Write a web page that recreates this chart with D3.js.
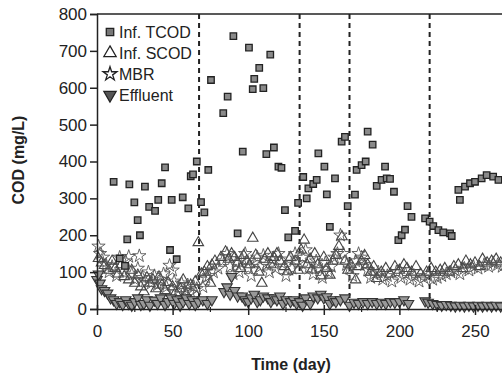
<!DOCTYPE html>
<html>
<head>
	<script src="https://cdn.jsdelivr.net/npm/d3@7"></script>
	<style>
		html, body {
			padding: 0;
			margin: 0;
			background: white;
		}
		svg text {
			font-family: "Liberation Sans", Arial, sans-serif;
			fill: #222;
		}
	</style>
</head>
<body>
	<div id="chart"></div>
	<script>
		// [day, COD]
		var tcod = [[11,345],[15,137],[18.5,117],[20,189],[21.4,338],[24.7,289],[26.9,241],[28.4,200],[31.7,332],[34.5,277],
			[38.4,266],[40.5,296],[42.8,341],[45,384],[48.3,160],[49.4,296],[52.7,135],[56.7,303],[60.4,273],[62,360],
			[63.5,365],[66,400],[68.8,290],[71,262],[73.6,377],[75.4,621],[83.5,531],[86.4,576],[90.2,740],[93,205],
			[96.4,427],[100.5,709],[103,596],[104,624],[107.3,654],[110,599],[112,420],[114.6,690],[117,438],[120,386],
			[122,383],[124.3,268],[126.5,194],[131,212],[133,288],[136.4,358],[138.7,300],[139.8,327],[143,339],[145.3,350],
			[146.4,422],[150.4,386],[152,311],[154,223],[157.4,354],[161.8,454],[164,467],[165.8,279],[170.6,310],[171.7,377],
			[175,390],[177.7,400],[179,481],[182.3,446],[185,334],[188.2,350],[190.5,386],[191.6,354],[193.8,353],[196.4,318],
			[199.3,187],[201.5,200],[203.7,215],[205.4,279],[208,250],[217,246],[220,237],[222.4,225],[225.8,214],[229,208],
			[233.5,205],[234.6,198],[239,323],[240,296],[243.4,332],[246.7,341],[250,345],[254.4,354],[257.7,363],[262,359],[265.5,350]];

		var scod = [[1,137],[3,125],[5,118],[8,105],[10,130],[12,110],[14,95],[16,120],[18,88],[21,79],[23,105],[25,70],
			[27,92],[29,60],[31,47],[33,85],[35,70],[37,79],[39,55],[41,87],[43,65],[45,50],[47,72],[50,60],[52,45],[55,55],
			[57,79],[59,40],[62,65],[65,74],[67,180],[69,95],[71,100],[73,115],[75,70],[76,119],[78,130],[82,140],[85,155],
			[87,135],[89,150],[91,140],[93,125],[95,110],[97,145],[99,130],[101,120],[103,192],[105,146],[107,100],[109,70],
			[111,135],[113,150],[115,120],[117,140],[119,150],[121,130],[124,115],[126,101],[128,140],[131,130],[133,105],
			[135,160],[137,187],[139,120],[141,135],[142,106],[144,150],[146,120],[148,90],[150,140],[152,110],[154,92],
			[156,130],[158,145],[160,170],[162,196],[164,130],[166,105],[168,120],[171,79],[173,115],[175,130],[177,145],
			[179,120],[181,100],[183,115],[185,83],[188,100],[191,110],[194,95],[197,115],[200,105],[203,120],[205,110],
			[208,100],[211,115],[214,95],[218,100],[221,110],[224,100],[227,105],[230,110],[233,100],[236,115],[239,120],
			[242,110],[244,130],[247,120],[250,125],[253,115],[255,135],[258,125],[261,130],[264,135],[267,125]];

		var mbr = [[1,170],[2,150],[4,140],[6,120],[8,100],[10,115],[13,90],[15,140],[17,100],[19,130],[21,142],[23,95],
			[25,80],[27,110],[28,144],[30,85],[32,75],[34,100],[36,70],[38,90],[40,65],[42,80],[44,95],[46,60],[48,118],
			[50,105],[51,75],[54,55],[56,70],[58,50],[60,65],[62,45],[64,60],[66,55],[70,60],[72,85],[74,90],[77,100],
			[80,110],[83,130],[86,150],[88,115],[90,95],[92,125],[94,100],[96,135],[98,150],[100,110],[102,90],[104,125],
			[106,140],[108,115],[110,145],[112,120],[114,100],[116,135],[118,110],[120,150],[122,125],[125,90],[127,135],
			[129,110],[131,150],[133,125],[136,140],[138,160],[140,110],[143,95],[145,130],[147,110],[149,85],[151,125],
			[153,100],[155,115],[157,140],[159,150],[161,200],[163,150],[165,120],[167,110],[169,90],[171,130],[173,150],
			[175,140],[177,120],[179,105],[181,85],[183,95],[186,100],[189,80],[192,90],[195,75],[198,100],[201,85],
			[204,95],[207,80],[210,90],[213,75],[216,85],[219,90],[222,80],[225,85],[228,90],[231,95],[234,100],[237,105],
			[240,95],[243,110],[246,105],[249,115],[252,110],[256,120],[259,115],[262,125],[265,120],[268,115]];

		var effluent = [[0,80],[1,95],[2,70],[3,55],[5,50],[7,43],[9,30],[11,25],[13,15],[15,20],[17,12],[19,25],[21,15],
			[23,10],[25,20],[27,30],[29,12],[31,15],[33,25],[35,10],[38,24],[40,15],[42,30],[45,12],[47,20],[49,30],[51,15],
			[53,25],[55,10],[57,20],[59,30],[61,15],[63,25],[65,12],[67,20],[70,25],[73,15],[76,25],[84,47],[86,60],[88,40],
			[89,88],[91,50],[93,35],[96,35],[98,25],[100,20],[102,30],[104,40],[106,20],[108,25],[110,35],[113,30],[115,20],
			[117,30],[119,25],[121,35],[123,15],[125,25],[128,20],[130,25],[132,15],[134,20],[136,10],[138,30],[141,15],
			[143,35],[146,30],[148,40],[150,30],[152,33],[154,15],[156,25],[158,20],[161,25],[164,30],[167,10],[170,18],
			[173,15],[176,20],[179,15],[182,20],[185,15],[188,18],[191,15],[194,20],[197,18],[200,20],[203,25],[206,15],
			[217,22],[219,18],[222,15],[225,12],[228,10],[231,12],[234,10],[237,8],[240,10],[243,8],[246,10],[249,8],
			[252,10],[255,8],[258,10],[261,8],[264,10],[267,8]];

		var phaseDays = [67.5, 134, 167, 220];
		var xTicks = [0, 50, 100, 150, 200, 250];
		var yTicks = [0, 100, 200, 300, 400, 500, 600, 700, 800];
		var legendNames = ["Inf. TCOD", "Inf. SCOD", "MBR", "Effluent"];

		var width = 502, height = 376;
		var plotLeft = 97, plotTop = 14, plotBottom = 309;

		var svg = d3.select('#chart').append('svg')
			.attr('width', width)
			.attr('height', height);

		// the plot runs past the right edge of the picture
		var x = d3.scaleLinear().domain([0, 300]).range([plotLeft, plotLeft + 300 * 1.512]);
		var y = d3.scaleLinear().domain([0, 800]).range([plotBottom, plotTop]);

		// marker shapes
		var sq = d3.symbol().type(d3.symbolSquare).size(42)();
		var tri = d3.symbol().type(d3.symbolTriangle).size(48)();
		var star = d3.symbol().type(d3.symbolStar).size(55)();

		var styles = [
			{path: sq, fill: "#8a8a8a", stroke: "#222", sw: 1.3, rot: 0},
			{path: tri, fill: "none", stroke: "#444", sw: 1.1, rot: 0},
			{path: star, fill: "none", stroke: "#555", sw: 0.9, rot: 0},
			{path: tri, fill: "#999", stroke: "#333", sw: 1.1, rot: 180}
		];

		// phase dividers
		svg.selectAll("line.phase")
			.data(phaseDays)
			.enter().append("line")
			.attr("class", "phase")
			.attr("x1", function(d) { return x(d); })
			.attr("x2", function(d) { return x(d); })
			.attr("y1", plotTop)
			.attr("y2", plotBottom)
			.attr("stroke", "#222")
			.attr("stroke-width", 2)
			.attr("stroke-dasharray", "5,4");

		// draw series, back to front
		function drawSeries(data, st) {
			svg.append("g").selectAll("path")
				.data(data)
				.enter().append("path")
				.attr("d", st.path)
				.attr("transform", function(d) {
					return "translate(" + x(d[0]) + "," + y(d[1]) + ") rotate(" + st.rot + ")";
				})
				.attr("fill", st.fill)
				.attr("stroke", st.stroke)
				.attr("stroke-width", st.sw);
		}
		drawSeries(scod, styles[1]);
		drawSeries(mbr, styles[2]);
		drawSeries(effluent, styles[3]);
		drawSeries(tcod, styles[0]);

		// frame top
		svg.append("line")
			.attr("x1", plotLeft).attr("x2", width)
			.attr("y1", plotTop).attr("y2", plotTop)
			.attr("stroke", "#222").attr("stroke-width", 1.5);

		// axes
		var yAxis = d3.axisLeft(y).tickValues(yTicks).tickSize(7).tickPadding(3);
		var gy = svg.append("g").attr("transform", "translate(" + plotLeft + ",0)").call(yAxis);
		gy.select(".domain").attr("stroke", "#222").attr("stroke-width", 1.5);
		gy.selectAll(".tick line").attr("stroke", "#222").attr("stroke-width", 1.5);
		gy.selectAll("text").style("font-size", "17px").attr("fill", "#222");

		var xAxis = d3.axisBottom(x).tickValues(xTicks).tickSizeInner(6).tickSizeOuter(0).tickPadding(10);
		var gx = svg.append("g").attr("transform", "translate(0," + plotBottom + ")").call(xAxis);
		gx.select(".domain").attr("stroke", "#222").attr("stroke-width", 1.5);
		gx.selectAll(".tick line").attr("y1", -4).attr("stroke", "#222").attr("stroke-width", 1.5);
		gx.selectAll("text").style("font-size", "17px").attr("fill", "#222");

		// minor x ticks
		svg.append("g").selectAll("line")
			.data(xTicks.map(function(d) { return d + 25; }))
			.enter().append("line")
			.attr("x1", function(d) { return x(d); })
			.attr("x2", function(d) { return x(d); })
			.attr("y1", plotBottom - 2)
			.attr("y2", plotBottom + 3)
			.attr("stroke", "#222")
			.attr("stroke-width", 1.2);

		// axis titles
		svg.append("text")
			.attr("x", 291).attr("y", 370)
			.attr("text-anchor", "middle")
			.style("font-size", "16px").style("font-weight", "bold")
			.text("Time (day)");

		svg.append("text")
			.attr("transform", "translate(24,160) rotate(-90)")
			.attr("text-anchor", "middle")
			.style("font-size", "16px").style("font-weight", "bold")
			.text("COD (mg/L)");

		// legend
		var leg = svg.append("g").selectAll("g")
			.data(legendNames)
			.enter().append("g")
			.attr("transform", function(d, i) { return "translate(110," + (32 + i * 21) + ")"; });
		leg.append("path")
			.attr("d", function(d, i) { return i == 0 ? d3.symbol().type(d3.symbolSquare).size(55)() :
				i == 2 ? d3.symbol().type(d3.symbolStar).size(60)() : d3.symbol().type(d3.symbolTriangle).size(65)(); })
			.attr("transform", function(d, i) { return i == 3 ? "rotate(180)" : ""; })
			.attr("fill", function(d, i) { return i == 0 ? "#777" : i == 3 ? "#555" : "none"; })
			.attr("stroke", "#222")
			.attr("stroke-width", 1.3);
		leg.append("text")
			.attr("x", 9).attr("y", 6)
			.style("font-size", "16px")
			.text(function(d) { return d; });
	</script>
</body>
</html>
